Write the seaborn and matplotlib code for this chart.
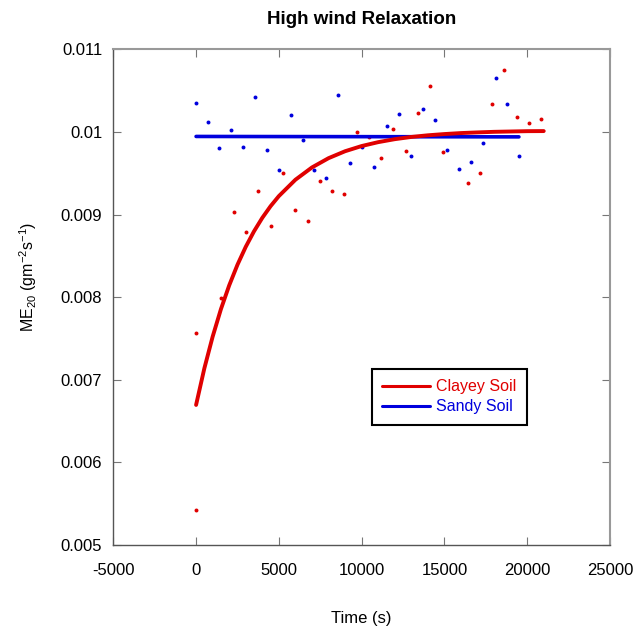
import matplotlib
matplotlib.use("Agg")
import matplotlib.pyplot as plt
import seaborn as sns
import pandas as pd
from matplotlib.lines import Line2D

# measured points, time in s, flux in g m-2 s-1
clay_t = [0, 0, 1510, 2272, 3021, 3764, 4507, 5256, 5981, 6742, 7467, 8216,
          8941, 9702, 10451, 11194, 11919, 12662, 13429, 14154, 14898, 16395,
          17133, 17882, 18625, 19368, 20093, 20842]
clay_me = [0.007565, 0.005422, 0.007993, 0.009034, 0.008792, 0.009285, 0.008861,
           0.009499, 0.009054, 0.008925, 0.009409, 0.009285, 0.009248, 0.009999,
           0.009938, 0.009684, 0.010035, 0.009769, 0.010225, 0.010552, 0.009760,
           0.009385, 0.009502, 0.010338, 0.010753, 0.010184, 0.010104, 0.010160]

sand_t = [0, 700, 1408, 2114, 2815, 3582, 4289, 5032, 5757, 6440, 7147, 7872,
          8597, 9303, 10028, 10772, 11557, 12264, 12989, 13732, 14415, 15139,
          15888, 16613, 17356, 18124, 18788, 19531]
sand_me = [0.010346, 0.010123, 0.009801, 0.010023, 0.009821, 0.010426, 0.009781,
           0.009539, 0.010201, 0.009898, 0.009539, 0.009446, 0.010447, 0.009627,
           0.009821, 0.009579, 0.010071, 0.010213, 0.009708, 0.010277, 0.010140,
           0.009777, 0.009551, 0.009632, 0.009862, 0.010656, 0.010341, 0.009708]

# fitted curves
clay_fit_t = [0, 500, 1000, 1500, 2000, 2500, 3000, 3500, 4000, 4500, 5000,
              6000, 7000, 8000, 9000, 10000, 11000, 12000, 13000, 14000, 15000,
              16000, 17000, 18000, 19000, 20000, 21000]
clay_fit_me = [0.006695, 0.007138, 0.007521, 0.007854, 0.008142, 0.008392,
               0.008609, 0.008797, 0.008960, 0.009101, 0.009223, 0.009421,
               0.009570, 0.009682, 0.009766, 0.009829, 0.009876, 0.009912,
               0.009939, 0.009959, 0.009974, 0.009986, 0.009994, 0.010001,
               0.010005, 0.010009, 0.010010]
sand_fit_t = [0, 19500]
sand_fit_me = [0.009945, 0.009940]

red = "#e00000"
blue = "#0000dd"

sns.set_theme(style="white")
plt.rcParams["font.family"] = ["Liberation Sans", "DejaVu Sans"]
plt.rcParams["axes.unicode_minus"] = False
plt.rcParams["mathtext.fontset"] = "custom"
plt.rcParams["mathtext.rm"] = "Liberation Sans"
plt.rcParams["mathtext.it"] = "Liberation Sans"
plt.rcParams["text.color"] = "black"
plt.rcParams["axes.labelcolor"] = "black"

fig = plt.figure(figsize=(6.34, 6.32), dpi=100)
ax = fig.add_axes([0.1787, 0.1377, 0.7834, 0.7843])

sns.scatterplot(x=sand_t, y=sand_me, color=blue, s=8, linewidth=0, ax=ax, zorder=3)
sns.scatterplot(x=clay_t, y=clay_me, color=red, s=8, linewidth=0, ax=ax, zorder=3)

sand_fit = pd.DataFrame({"t": sand_fit_t, "me": sand_fit_me})
clay_fit = pd.DataFrame({"t": clay_fit_t, "me": clay_fit_me})
sns.lineplot(data=sand_fit, x="t", y="me", color=blue, linewidth=2.6, ax=ax, zorder=4)
sns.lineplot(data=clay_fit, x="t", y="me", color=red, linewidth=2.8, ax=ax, zorder=5)

ax.set_xlim(-5000, 25000)
ax.set_ylim(0.005, 0.011)
ax.set_xticks([-5000, 0, 5000, 10000, 15000, 20000, 25000])
ax.set_yticks([0.005, 0.006, 0.007, 0.008, 0.009, 0.01, 0.011])
ax.set_yticklabels(["0.005", "0.006", "0.007", "0.008", "0.009", "0.01", "0.011"])
ax.tick_params(direction="in", length=6, width=0.8, color="#777777",
               labelsize=12, labelcolor="black", pad=8,
               top=True, right=True, bottom=True, left=True)
ax.tick_params(axis="x", pad=13)

for side in ["left", "bottom"]:
    ax.spines[side].set_color("#555555")
    ax.spines[side].set_linewidth(1.0)
for side in ["top", "right"]:
    ax.spines[side].set_color("#999999")
    ax.spines[side].set_linewidth(1.5)

ax.set_title("High wind Relaxation", fontsize=13.5, fontweight="bold", pad=18)
ax.set_xlabel("Time (s)", fontsize=12, labelpad=24)
ax.set_ylabel(r"ME$_{20}$ (gm$^{-2}$s$^{-1}$)", fontsize=11.5)
ax.yaxis.set_label_coords(-0.15, 0.54)

handles = [Line2D([0], [0], color=red, linewidth=2.2, marker=".", markersize=2),
           Line2D([0], [0], color=blue, linewidth=2.2, marker=".", markersize=2)]
leg = ax.legend(handles, ["Clayey Soil", "Sandy Soil"], loc="upper left",
                bbox_to_anchor=(0.52, 0.355), borderaxespad=0, fontsize=11.5,
                fancybox=False, framealpha=1, edgecolor="black",
                handlelength=3.0, borderpad=0.65, labelspacing=0.3,
                handletextpad=0.4)
leg.get_frame().set_linewidth(1.5)
leg.texts[0].set_color(red)
leg.texts[1].set_color(blue)

fig.savefig("out.png", dpi=100)
